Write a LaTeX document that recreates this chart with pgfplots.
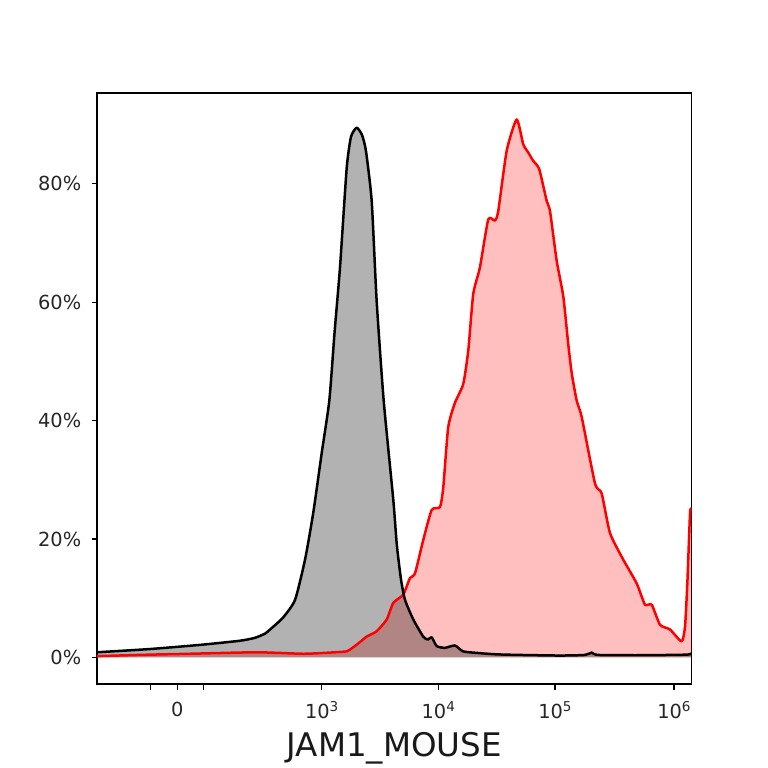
\documentclass[border=0pt]{standalone}
\usepackage{fontspec}
\setmainfont{DejaVu Sans}
\usepackage{pgfplots}
\pgfplotsset{compat=1.18}

% x in decades: 3 = 10^3, 4 = 10^4 ...; 0 sits at 1.770 (logicle-like scale)
\pgfplotstableread{
x y
1.086 0.85
1.537 1.4
1.963 2.1
2.304 2.8
2.432 3.3
2.517 4.0
2.560 4.7
2.670 6.7
2.773 9.7
2.858 16.5
2.928 24.4
3.000 34.5
3.065 43.4
3.110 55.0
3.156 65.9
3.213 82.7
3.250 88.0
3.298 89.5
3.343 88.3
3.377 85.6
3.426 77.1
3.468 60.3
3.528 43.4
3.610 26.6
3.640 19.0
3.676 13.1
3.710 9.7
3.780 6.4
3.865 3.5
3.905 3.0
3.937 3.4
3.980 1.9
4.050 1.6
4.135 2.0
4.206 1.0
4.348 0.7
4.491 0.5
4.689 0.4
5.030 0.3
5.243 0.4
5.300 0.8
5.353 0.4
5.711 0.35
6.109 0.45
6.152 0.7
}\ctrl

\pgfplotstableread{
x y
1.086 0.2
1.537 0.45
1.878 0.6
2.446 0.85
2.843 0.6
3.071 0.8
3.213 1.0
3.241 1.3
3.309 2.3
3.383 3.5
3.468 4.4
3.554 6.4
3.610 9.2
3.695 10.6
3.752 13.4
3.795 14.2
3.865 19.8
3.937 24.9
4.008 25.4
4.036 28.8
4.078 38.9
4.135 43.0
4.206 46.2
4.249 51.9
4.291 61.4
4.348 65.9
4.419 74.0
4.476 73.8
4.504 75.4
4.576 85.6
4.661 90.9
4.717 86.7
4.760 85.3
4.802 83.9
4.853 82.5
4.917 77.1
4.945 75.4
5.002 67.0
5.058 61.0
5.100 53.0
5.130 48.0
5.172 43.4
5.215 40.6
5.328 29.4
5.385 27.7
5.456 21.0
5.569 16.5
5.683 12.5
5.754 8.9
5.811 8.9
5.882 5.5
5.967 4.7
6.066 2.7
6.095 5.2
6.115 12.6
6.138 24.4
6.152 25.0
}\sample

\newcommand{\dec}[1]{10\raisebox{0.33em}{\fontsize{9.8}{11}\selectfont #1}}

\begin{document}
\begin{tikzpicture}
\path[use as bounding box] (0,0) rectangle (7.68in,7.68in);
\begin{axis}[
    at={(0.97in,0.84in)}, anchor=south west,
    scale only axis,
    width=5.947in, height=5.91in,
    xmin=1.086, xmax=6.152,
    ymin=-4.51, ymax=95.37,
    axis line style={line width=0.012in},
    tick align=outside,
    tick pos=left,
    major tick length=0.055in,
    tick style={black, line width=0.011in},
    xtick={1.544,1.770,1.996,3,3.993,4.987,6.001},
    xticklabels={,0,,\dec{3},\dec{4},\dec{5},\dec{6}},
    ytick={0,20,40,60,80},
    yticklabels={0\%,20\%,40\%,60\%,80\%},
    tick label style={font=\fontsize{14}{16}\selectfont, text=black!85, inner sep=0pt},
    xticklabel style={anchor=north, yshift=-0.12in},
    yticklabel style={anchor=east, xshift=-0.10in},
    xlabel={JAM1\_MOUSE},
    xlabel style={font=\fontsize{23.5}{28}\selectfont, text=black!90, at={(axis description cs:0.5,0)}, anchor=base, yshift=-0.727in, inner sep=0pt},
]
\addplot[draw=none, fill=red, fill opacity=0.25, smooth, tension=0.35] table[x=x,y=y] {\sample} \closedcycle;
\addplot[draw=none, fill=black, fill opacity=0.3, smooth, tension=0.35] table[x=x,y=y] {\ctrl} \closedcycle;
\addplot[red, line width=0.025in, line join=round, smooth, tension=0.35] table[x=x,y=y] {\sample};
\addplot[black, line width=0.025in, line join=round, smooth, tension=0.35] table[x=x,y=y] {\ctrl};
\end{axis}
\end{tikzpicture}
\end{document}
